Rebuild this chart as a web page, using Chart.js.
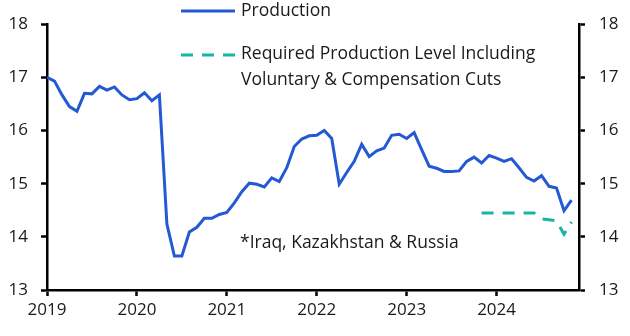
<!DOCTYPE html>
<html>
<head>
<meta charset="utf-8">
<script src="https://cdn.jsdelivr.net/npm/chart.js@4"></script>
<style>
  html, body { margin: 0; padding: 0; background: #fff; }
  #wrap { width: 630px; height: 336px; position: relative; }
</style>
</head>
<body>
<div id="wrap"><canvas id="chart"></canvas></div>
<script>
// monthly data, Jan 2019 = index 0
const startYear = 2019;
const yearLabels = ["2019", "2020", "2021", "2022", "2023", "2024"];
const yTicks = [13, 14, 15, 16, 17, 18];

const production = [
  17.00, 16.93, 16.67, 16.45, 16.36, 16.70, 16.69, 16.83, 16.76, 16.82, 16.67, 16.58,
  16.60, 16.71, 16.56, 16.67, 14.24, 13.64, 13.64, 14.09, 14.18, 14.35, 14.35, 14.42,
  14.46, 14.64, 14.85, 15.01, 14.99, 14.94, 15.11, 15.04, 15.30, 15.70, 15.84, 15.90,
  15.91, 16.00, 15.85, 14.99, 15.21, 15.42, 15.74, 15.51, 15.62, 15.67, 15.91, 15.93,
  15.85, 15.96, 15.64, 15.33, 15.29, 15.23, 15.23, 15.24, 15.42, 15.50, 15.39, 15.53,
  15.48, 15.42, 15.47, 15.30, 15.12, 15.05, 15.15, 14.95, 14.92, 14.49, 14.69
];

// starts Nov 2023
const requiredStart = 58;
const required = [14.45, 14.45, 14.45, 14.45, 14.45, 14.45, 14.45, 14.45, 14.34, 14.32, 14.30, 14.05, 14.28];

const BLUE = "#2459d4";
const TEAL = "#17b5a4";
const INK = "#1a1a1a";
const FONT = "'Open Sans', Lato, sans-serif";

const overlay = {
  id: "overlay",
  afterDraw(chart) {
    const ctx = chart.ctx;
    ctx.save();
    ctx.font = "17.5px " + FONT;
    ctx.fillStyle = INK;
    ctx.textBaseline = "middle";
    ctx.lineWidth = 3;

    // legend: production
    ctx.strokeStyle = BLUE;
    ctx.beginPath();
    ctx.moveTo(181, 11);
    ctx.lineTo(235, 11);
    ctx.stroke();
    ctx.fillText("Production", 241, 11);

    // legend: required level
    ctx.strokeStyle = TEAL;
    ctx.setLineDash([12, 9]);
    ctx.beginPath();
    ctx.moveTo(181, 55);
    ctx.lineTo(235, 55);
    ctx.stroke();
    ctx.setLineDash([]);
    ctx.fillText("Required Production Level Including", 241, 54);
    ctx.fillText("Voluntary & Compensation Cuts", 241, 80);

    ctx.fillText("*Iraq, Kazakhstan & Russia", 240, 243);
    ctx.restore();
  }
};

const axisBase = {
  border: { display: true, color: "#000", width: 2.5 },
  grid: { drawOnChartArea: false, drawTicks: true, tickLength: 6, tickWidth: 2.5, tickColor: "#000" },
  ticks: { color: INK, font: { family: FONT, size: 17 } }
};

new Chart(document.getElementById("chart"), {
  type: "line",
  data: {
    datasets: [
      {
        label: "Production",
        data: production.map((v, i) => ({ x: i, y: v })),
        borderColor: BLUE,
        borderWidth: 3,
        pointRadius: 0,
        tension: 0,
        fill: false,
        yAxisID: "y"
      },
      {
        label: "Required Production Level Including Voluntary & Compensation Cuts",
        data: required.map((v, i) => ({ x: requiredStart + i, y: v })),
        borderColor: TEAL,
        borderWidth: 3,
        borderDash: [12, 9],
        pointRadius: 0,
        tension: 0,
        fill: false,
        yAxisID: "y"
      }
    ]
  },
  options: {
    responsive: true,
    maintainAspectRatio: false,
    animation: false,
    layout: { padding: { top: 15, left: 0, right: 0, bottom: 0 } },
    plugins: {
      legend: { display: false },
      tooltip: { enabled: false }
    },
    scales: {
      x: {
        ...axisBase,
        type: "linear",
        min: 0,
        max: 71,
        afterBuildTicks(scale) {
          scale.ticks = yearLabels.map((_, i) => ({ value: i * 12 }));
        },
        ticks: {
          ...axisBase.ticks,
          padding: 4,
          maxRotation: 0,
          callback: (v) => String(startYear + v / 12)
        },
        afterFit(scale) { scale.height = 46; }
      },
      y: {
        ...axisBase,
        position: "left",
        min: yTicks[0],
        max: yTicks[yTicks.length - 1],
        ticks: { ...axisBase.ticks, stepSize: 1, padding: 13 },
        afterFit(scale) { scale.width = 47; }
      },
      y1: {
        ...axisBase,
        position: "right",
        min: yTicks[0],
        max: yTicks[yTicks.length - 1],
        ticks: { ...axisBase.ticks, stepSize: 1, padding: 14 },
        afterFit(scale) { scale.width = 51; }
      }
    }
  },
  plugins: [overlay]
});
</script>
</body>
</html>
